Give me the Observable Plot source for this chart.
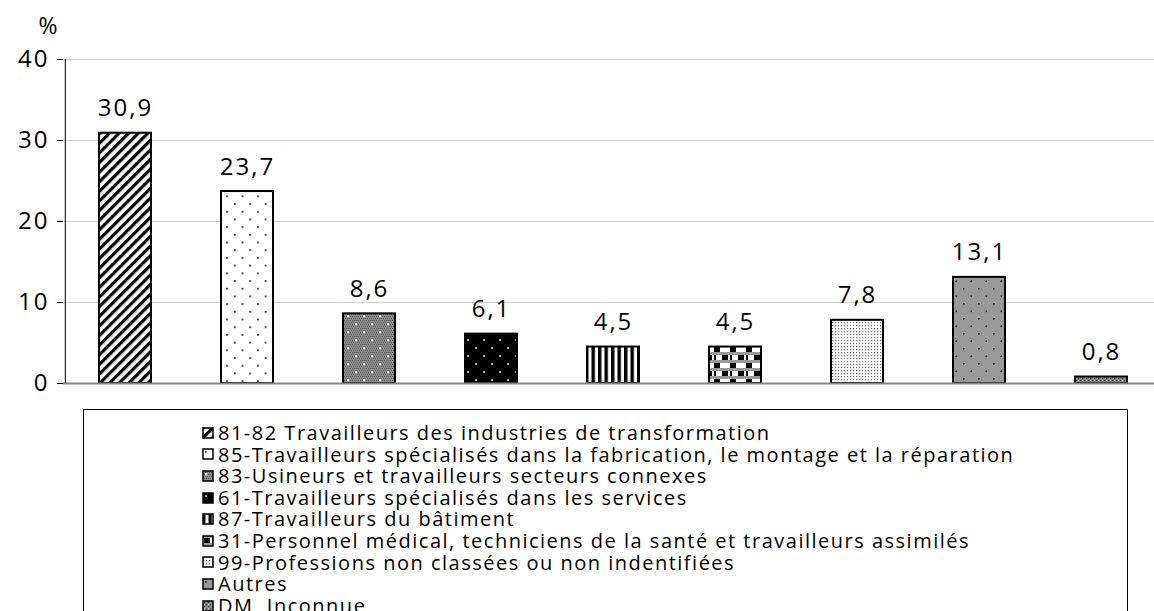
<!DOCTYPE html>
<html>
<head>
<meta charset="utf-8">
<script src="https://cdn.jsdelivr.net/npm/d3@7"></script>
<script src="https://cdn.jsdelivr.net/npm/@observablehq/plot@0.6"></script>
<style>
  html, body { margin: 0; padding: 0; background: #fff; overflow: hidden; }
  #wrap { position: relative; width: 1154px; height: 611px; overflow: hidden; font-family: "Open Sans", sans-serif; }
  #chart { position: absolute; left: 0; top: 0; }
  #legend { position: absolute; left: 83px; top: 409px; width: 1045px; height: 240px; border: 1.5px solid #000; box-sizing: border-box; }
  .item { position: absolute; left: 118px; height: 21.6px; line-height: 21.6px; display: flex; align-items: center; font-size: 20px; color: #000; white-space: nowrap; letter-spacing: 1.5px; }
  .item svg { margin-right: 4px; flex: none; }
</style>
</head>
<body>
<div id="wrap">
  <div id="chart"></div>
  <div id="legend"></div>
</div>
<script>
const categories = [
  "81-82 Travailleurs des industries de transformation",
  "85-Travailleurs spécialisés dans la fabrication, le montage et la réparation",
  "83-Usineurs et travailleurs secteurs connexes",
  "61-Travailleurs spécialisés dans les services",
  "87-Travailleurs du bâtiment",
  "31-Personnel médical, techniciens de la santé et travailleurs assimilés",
  "99-Professions non classées ou non indentifiées",
  "Autres",
  "DM, Inconnue"
];
const values = [30.9, 23.7, 8.6, 6.1, 4.5, 4.5, 7.8, 13.1, 0.8];
const yTicks = [0, 10, 20, 30, 40];
const patternIds = ["p1", "p2", "p3", "p4", "p5", "p6", "p7", "p8", "p9"];

const data = categories.map((c, i) => ({
  cat: c,
  value: values[i],
  label: values[i].toFixed(1).replace(".", ","),
  fill: `url(#${patternIds[i]})`
}));

const chart = Plot.plot({
  width: 1154,
  height: 400,
  marginLeft: 63,
  marginRight: 0,
  marginTop: 59,
  marginBottom: 17,
  style: { fontFamily: "Open Sans, sans-serif", background: "transparent" },
  x: { domain: categories, range: [62, 1164], paddingInner: 0.57, paddingOuter: 0.285, axis: null },
  y: { domain: [0, 40], ticks: yTicks, label: null },
  color: { type: "identity" },
  marks: [
    Plot.ruleY(yTicks.filter(d => d > 0), { stroke: "#d0d0d0", strokeWidth: 1 }),
    Plot.barY(data, { x: "cat", y: "value", fill: "fill", stroke: "#000", strokeWidth: 2 }),
    Plot.ruleY([0], { stroke: "#868686", strokeWidth: 2 }),
    Plot.ruleX([categories[0]], { x: d => d, dx: -60.2, y1: 0, y2: 40, stroke: "#000", strokeWidth: 1 }),
    Plot.axisY({ ticks: yTicks, tickSize: 6, tickPadding: 8, fontSize: 24, label: null, tickFormat: d => String(d), stroke: "#000" }),
    Plot.text(data, { x: "cat", y: "value", text: "label", dy: -17, lineAnchor: "bottom", fontSize: 24, fill: "#000" }),
    Plot.text(["%"], { frameAnchor: "top-left", dx: -25, dy: -42, fontSize: 23, fill: "#000" })
  ]
});

// patterns
const svg = d3.select(chart);
const defs = svg.insert("defs", ":first-child");
function pat(id, w, h, build, transform) {
  const p = defs.append("pattern").attr("id", id).attr("patternUnits", "userSpaceOnUse")
    .attr("width", w).attr("height", h);
  if (transform) p.attr("patternTransform", transform);
  build(p);
}
// 1 diagonal hatch
pat("p1", 6.8, 6.8, p => {
  p.append("rect").attr("width", 6.8).attr("height", 6.8).attr("fill", "#fff");
  p.append("rect").attr("width", 3.2).attr("height", 6.8).attr("fill", "#000");
}, "rotate(45)");
// 2 sparse dots on white
pat("p2", 15.4, 15.4, p => {
  p.append("rect").attr("width", 15.4).attr("height", 15.4).attr("fill", "#fff");
  p.append("rect").attr("x", 3).attr("y", 3).attr("width", 1.6).attr("height", 1.6).attr("fill", "#000");
  p.append("rect").attr("x", 10.7).attr("y", 10.7).attr("width", 1.6).attr("height", 1.6).attr("fill", "#000");
});
// 3 gray dither with white dots
pat("p3", 16, 16, p => {
  p.append("rect").attr("width", 16).attr("height", 16).attr("fill", "#8e8e8e");
  for (let yy = 0; yy < 16; yy += 2) for (let xx = (yy / 2) % 2; xx < 16; xx += 2)
    p.append("rect").attr("x", xx).attr("y", yy).attr("width", 1).attr("height", 1).attr("fill", "#555");
  [[4, 4], [12, 12]].forEach(([x, y]) => {
    p.append("rect").attr("x", x - 1).attr("y", y - 1).attr("width", 2.2).attr("height", 2.2).attr("fill", "#fff");
  });
});
// 4 black with gray dots
pat("p4", 16, 16, p => {
  p.append("rect").attr("width", 16).attr("height", 16).attr("fill", "#000");
  [[4, 4], [12, 12]].forEach(([x, y]) => {
    p.append("rect").attr("x", x - 0.8).attr("y", y - 0.8).attr("width", 1.8).attr("height", 1.8).attr("fill", "#bbb");
  });
});
// 5 vertical stripes
pat("p5", 6.5, 10, p => {
  p.append("rect").attr("width", 6.5).attr("height", 10).attr("fill", "#fff");
  p.append("rect").attr("width", 3.4).attr("height", 10).attr("fill", "#000");
});
// 6 checks with gray bands
pat("p6", 16, 16, p => {
  p.append("rect").attr("width", 16).attr("height", 16).attr("fill", "#fff");
  p.append("rect").attr("y", 0).attr("width", 16).attr("height", 3).attr("fill", "#9a9a9a");
  p.append("rect").attr("y", 8).attr("width", 16).attr("height", 3).attr("fill", "#9a9a9a");
  p.append("rect").attr("x", 2).attr("y", 3).attr("width", 6).attr("height", 5).attr("fill", "#000");
  p.append("rect").attr("x", 10).attr("y", 11).attr("width", 6).attr("height", 5).attr("fill", "#000");
  p.append("rect").attr("x", 10).attr("y", 3).attr("width", 2).attr("height", 5).attr("fill", "#000");
});
// 7 light fine dots
pat("p7", 3, 3, p => {
  p.append("rect").attr("width", 3).attr("height", 3).attr("fill", "#fff");
  p.append("rect").attr("x", 1).attr("y", 1).attr("width", 1.2).attr("height", 1.2).attr("fill", "#777");
});
// 8 gray with black dots
pat("p8", 15, 15, p => {
  p.append("rect").attr("width", 15).attr("height", 15).attr("fill", "#999");
  p.append("rect").attr("x", 3).attr("y", 3).attr("width", 1.6).attr("height", 1.6).attr("fill", "#000");
  p.append("rect").attr("x", 10.5).attr("y", 10.5).attr("width", 1.6).attr("height", 1.6).attr("fill", "#000");
});
// 9 dark gray dither
pat("p9", 4, 4, p => {
  p.append("rect").attr("width", 4).attr("height", 4).attr("fill", "#8a8a8a");
  p.append("rect").attr("x", 0).attr("y", 0).attr("width", 1.2).attr("height", 1.2).attr("fill", "#333");
  p.append("rect").attr("x", 2).attr("y", 2).attr("width", 1.2).attr("height", 1.2).attr("fill", "#333");
  p.append("rect").attr("x", 2).attr("y", 0).attr("width", 1).attr("height", 1).attr("fill", "#ddd");
});

svg.selectAll("text").attr("letter-spacing", "2");
document.getElementById("chart").appendChild(chart);

// legend
const legend = d3.select("#legend");
categories.forEach((c, i) => {
  const it = legend.append("div").attr("class", "item").style("top", (12 + i * 21.6) + "px");
  const s = it.append("svg").attr("width", 12).attr("height", 12);
  s.append("rect").attr("x", 1).attr("y", 1).attr("width", 10).attr("height", 10)
    .attr("fill", `url(#${patternIds[i]})`).attr("stroke", "#000").attr("stroke-width", 1.5);
  it.append("span").text(c);
});
</script>
</body>
</html>
